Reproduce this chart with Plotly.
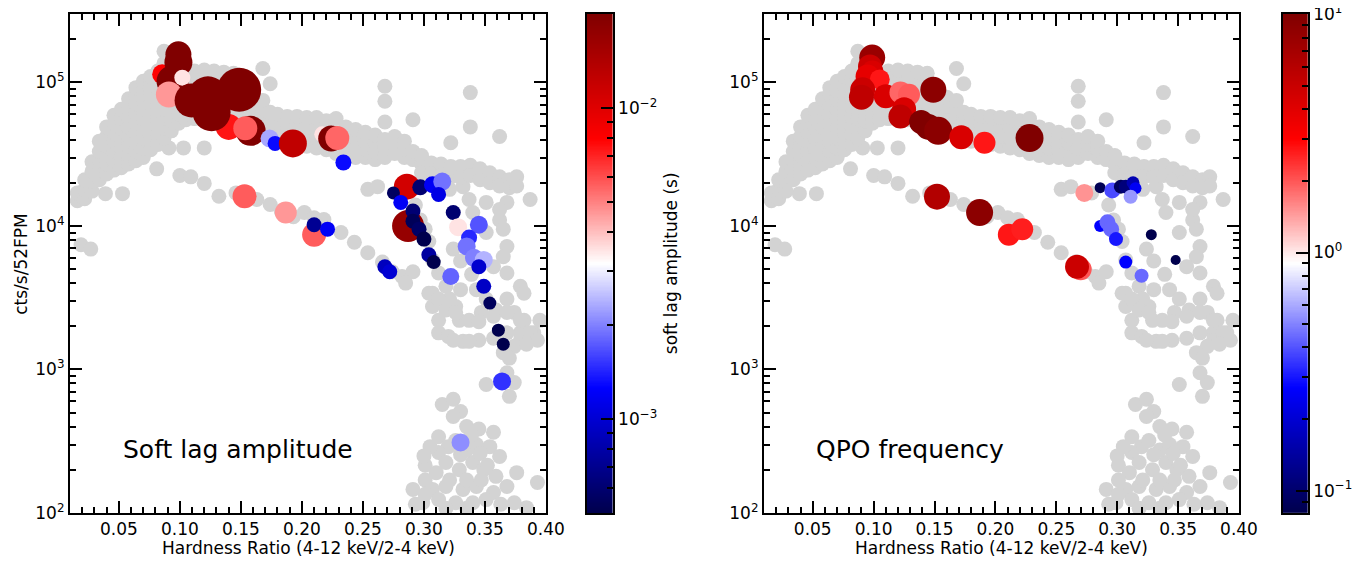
import numpy as np
import plotly.graph_objects as go

# ---------------- DATA ----------------
# Background (grey) hardness-intensity points, dense cloud stored column-wise
cloud_cols_hr = [0.016, 0.022, 0.028, 0.034, 0.040, 0.046, 0.052, 0.058, 0.064, 0.070,
                 0.076, 0.082, 0.087, 0.093, 0.099, 0.105, 0.112, 0.120, 0.128, 0.136,
                 0.144, 0.152, 0.160, 0.168, 0.174, 0.180, 0.188, 0.196, 0.204, 0.212,
                 0.220, 0.228, 0.236, 0.244, 0.252, 0.260, 0.268, 0.276, 0.284, 0.291,
                 0.298, 0.306, 0.314, 0.322, 0.330, 0.338, 0.346, 0.354, 0.362, 0.370,
                 0.376]
cloud_cols_rate = [
    [1.5e4, 1.7e4],
    [1.55e4, 1.8e4, 2.1e4],
    [1.75e4, 2.05e4, 2.4e4, 2.8e4],
    [2.1e4, 2.45e4, 2.85e4, 3.3e4, 3.9e4],
    [2.3e4, 2.7e4, 3.1e4, 3.6e4, 4.2e4, 4.9e4],
    [2.45e4, 2.85e4, 3.3e4, 3.9e4, 4.5e4, 5.2e4, 5.9e4],
    [2.55e4, 3.0e4, 3.5e4, 4.1e4, 4.8e4, 5.6e4, 6.5e4],
    [2.7e4, 3.1e4, 3.6e4, 4.2e4, 4.9e4, 5.7e4, 6.6e4, 7.7e4],
    [2.85e4, 3.3e4, 3.85e4, 4.5e4, 5.2e4, 6.1e4, 7.1e4, 8.2e4, 9.2e4],
    [3.0e4, 3.5e4, 4.1e4, 4.8e4, 5.6e4, 6.5e4, 7.6e4, 8.8e4, 1.02e5],
    [3.4e4, 3.9e4, 4.5e4, 5.2e4, 6.1e4, 7.1e4, 8.3e4, 9.6e4, 1.1e5],
    [3.7e4, 4.3e4, 5.0e4, 5.8e4, 6.8e4, 7.9e4, 9.2e4, 1.07e5, 1.2e5],
    [4.1e4, 4.8e4, 5.6e4, 6.5e4, 7.6e4, 8.8e4, 1.03e5, 1.36e5, 1.65e5],
    [4.6e4, 5.4e4, 6.3e4, 7.3e4, 8.5e4, 1.0e5],
    [5.2e4, 6.0e4, 7.0e4, 8.2e4, 9.5e4],
    [5.5e4, 6.4e4, 7.5e4, 8.8e4, 1.0e5, 1.15e5],
    [5.6e4, 6.5e4, 7.6e4, 8.9e4, 1.04e5, 1.2e5],
    [5.6e4, 6.5e4, 7.6e4, 8.9e4, 1.04e5, 1.22e5],
    [5.5e4, 6.4e4, 7.5e4, 8.8e4, 1.03e5, 1.2e5],
    [5.4e4, 6.3e4, 7.4e4, 8.7e4, 1.02e5, 1.18e5],
    [5.3e4, 6.2e4, 7.2e4, 8.5e4, 1.0e5, 1.16e5],
    [5.2e4, 6.0e4, 7.0e4, 8.2e4, 9.5e4],
    [5.1e4, 5.9e4, 6.8e4, 7.9e4],
    [5.0e4, 5.8e4, 6.6e4, 7.5e4, 1.25e5],
    [4.7e4, 5.4e4, 6.2e4, 9.8e4],
    [3.9e4, 4.5e4, 5.2e4, 6.0e4],
    [3.8e4, 4.4e4, 5.1e4, 5.8e4],
    [3.7e4, 4.3e4, 5.0e4, 5.8e4],
    [3.6e4, 4.2e4, 4.9e4, 5.7e4],
    [3.5e4, 4.1e4, 4.8e4, 5.7e4],
    [3.4e4, 3.9e4, 4.6e4, 5.4e4],
    [3.2e4, 3.7e4, 4.4e4, 5.6e4],
    [3.1e4, 3.6e4, 4.2e4, 4.9e4],
    [3.0e4, 3.5e4, 4.1e4, 4.7e4],
    [3.0e4, 3.4e4, 3.9e4, 4.5e4],
    [2.9e4, 3.3e4, 3.8e4, 4.3e4],
    [3.0e4, 3.5e4, 4.0e4, 5.3e4, 7.4e4, 9.4e4],
    [3.2e4, 3.7e4, 4.2e4],
    [3.0e4, 3.4e4, 3.9e4],
    [2.9e4, 3.3e4, 5.5e4],
    [2.7e4, 3.1e4, 2.35e4],
    [2.75e4, 2.3e4, 2.05e4],
    [2.7e4, 2.25e4, 2.0e4],
    [2.6e4, 2.2e4, 3.8e4],
    [2.6e4, 2.2e4],
    [2.65e4, 2.25e4, 4.9e4, 8.5e4],
    [2.5e4, 2.1e4],
    [2.35e4, 2.0e4],
    [2.2e4, 1.9e4, 4.2e4],
    [2.1e4, 1.85e4],
    [2.2e4, 1.9e4],
]

# Background (grey) scattered points
gray_hr = [
    0.019, 0.027, 0.039, 0.053, 0.021, 0.091, 0.103, 0.120,
    0.081, 0.100, 0.109, 0.120, 0.132, 0.146, 0.163, 0.174, 0.183, 0.193, 0.202,
    0.210, 0.218, 0.232, 0.243, 0.254, 0.266, 0.274, 0.282, 0.291, 0.285,
    0.254, 0.262, 0.279, 0.301, 0.314, 0.321,
    0.293, 0.297, 0.301, 0.304, 0.307, 0.312, 0.318, 0.307, 0.307, 0.312, 0.326, 0.329,
    0.332, 0.337, 0.340, 0.351, 0.362, 0.365, 0.368, 0.365, 0.357, 0.368, 0.379, 0.382,
    0.368, 0.374, 0.382, 0.379, 0.390, 0.395,
    0.351, 0.368, 0.387, 0.362,
    0.324, 0.330, 0.339, 0.343, 0.351, 0.359, 0.347, 0.330, 0.321, 0.304, 0.312, 0.318,
    0.326, 0.337, 0.345, 0.357, 0.368, 0.379,
    0.312, 0.320, 0.332, 0.345, 0.357, 0.368, 0.379, 0.387, 0.393, 0.374, 0.365, 0.370,
    0.324, 0.337, 0.384,
    0.351, 0.374, 0.370, 0.368,
    0.315, 0.324, 0.330, 0.324, 0.335, 0.345, 0.357, 0.312, 0.320, 0.312, 0.354, 0.362,
    0.301, 0.310, 0.318, 0.329, 0.340, 0.349, 0.359, 0.376, 0.368, 0.291, 0.307, 0.318,
    0.332, 0.343, 0.357, 0.312, 0.299, 0.326, 0.340, 0.351, 0.374, 0.393, 0.326, 0.335,
    0.343, 0.321, 0.335, 0.347, 0.301, 0.293, 0.318, 0.335, 0.363, 0.384, 0.330, 0.339,
    0.301, 0.305, 0.300, 0.346, 0.352,
]
gray_rate = [
    7.4e3, 6.9e3, 1.68e4, 1.68e4, 1.65e4, 3.5e4, 3.5e4, 3.5e4,
    2.5e4, 2.25e4, 2.2e4, 1.98e4, 1.61e4, 1.7e4, 1.53e4, 1.41e4, 1.27e4, 1.16e4, 1.24e4,
    1.14e4, 1.11e4, 9.0e3, 7.7e3, 6.5e3, 5.6e3, 4.8e3, 4.45e3, 4.8e3, 4.0e3,
    1.8e4, 1.88e4, 1.7e4, 2.3e4, 2.1e4, 1.8e4,
    1.4e4, 1.1e4, 9.5e3, 7.8e3, 5.8e3, 4.7e3, 3.8e3, 3.4e3, 2.75e3, 2.2e3, 2.75e3, 2.2e3,
    1.88e4, 1.53e4, 1.24e4, 9.0e3, 1.1e4, 9.5e3, 7.2e3, 6.1e3, 5.2e3, 4.7e3, 3.8e3, 3.4e3,
    3.1e3, 2.5e3, 2.2e3, 1.8e3, 1.8e3, 2.2e3,
    1.46e4, 1.46e4, 1.53e4, 1.3e4,
    6.9e3, 5.7e3, 4.6e3, 3.6e3, 3.1e3, 2.6e3, 2.5e3, 3.6e3, 3.1e3, 3.4e3, 3.1e3, 2.6e3,
    2.5e3, 2.2e3, 2.15e3, 2.35e3, 2.5e3, 2.2e3,
    1.8e3, 1.7e3, 1.57e3, 1.6e3, 1.65e3, 1.8e3, 1.6e3, 1.8e3, 1.6e3, 1.45e3, 1.31e3, 1.2e3,
    1.6e3, 1.57e3, 1.5e3,
    785, 810, 650, 950,
    570, 620, 510, 470, 400, 385, 365, 340, 290, 264, 290, 248,
    215, 191, 225, 200, 225, 200, 180, 191, 153, 146, 146, 153,
    146, 153, 139, 124, 118, 118, 118, 124, 118, 163, 320, 275,
    300, 170, 170, 170, 170, 115, 108, 108, 115, 109, 255, 350,
    135, 290, 250, 260, 215,
]

# Left panel: soft lag amplitude (s)
lag_hr = [0.0855, 0.0955, 0.0988, 0.0988, 0.094, 0.102, 0.091, 0.1096, 0.140, 0.123,
          0.126, 0.1486, 0.158, 0.1536, 0.1735, 0.178, 0.1926, 0.2167, 0.224, 0.229,
          0.234, 0.153, 0.1868, 0.210, 0.210, 0.221, 0.268, 0.272, 0.286, 0.275,
          0.281, 0.287, 0.297, 0.307, 0.315, 0.312, 0.291, 0.291, 0.296, 0.300,
          0.304, 0.308, 0.324, 0.328, 0.345, 0.337, 0.335, 0.341, 0.349, 0.345,
          0.322, 0.349, 0.354, 0.361, 0.365, 0.364, 0.330]
lag_rate = [1.14e5, 1.23e5, 1.57e5, 1.38e5, 1.02e5, 1.08e5, 8.25e4, 7.5e4, 4.9e4, 8.0e4,
            6.2e4, 8.9e4, 4.6e4, 4.8e4, 4.07e4, 3.76e4, 3.76e4, 4.35e4, 4.07e4, 4.1e4,
            2.77e4, 1.61e4, 1.24e4, 8.7e3, 1.02e4, 9.5e3, 5.2e3, 4.8e3, 1.88e4, 1.7e4,
            1.46e4, 1.0e4, 1.86e4, 1.94e4, 2.04e4, 1.66e4, 1.27e4, 1.08e4, 9.5e3, 8.1e3,
            6.3e3, 5.6e3, 1.24e4, 9.8e3, 1.02e4, 8.3e3, 7.2e3, 6.0e3, 5.8e3, 5.2e3,
            4.45e3, 3.8e3, 2.9e3, 1.88e3, 1.5e3, 825, 310]
lag_amp = [8.0e-3, 2.0e-3, 2.0e-2, 2.0e-2, 2.0e-2, 3.5e-3, 4.6e-3, 2.0e-2, 7.4e-3, 2.0e-2,
           2.0e-2, 2.0e-2, 2.0e-2, 5.7e-3, 2.3e-3, 1.3e-3, 1.26e-2, 3.5e-3, 2.0e-2, 5.5e-3,
           1.3e-3, 5.7e-3, 4.6e-3, 5.7e-3, 7.2e-4, 1.2e-3, 9.0e-4, 1.0e-3, 1.1e-2, 5.5e-4,
           1.2e-3, 1.7e-2, 6.0e-4, 1.2e-3, 1.9e-3, 1.1e-3, 6.1e-4, 5.3e-4, 5.7e-4, 5.0e-4,
           7.7e-4, 5.0e-4, 6.0e-4, 3.5e-3, 1.7e-3, 1.45e-3, 1.9e-3, 2.0e-3, 2.4e-3, 9.8e-4,
           1.8e-3, 9.3e-4, 5.4e-4, 5.0e-4, 5.0e-4, 1.5e-3, 2.1e-3]

# Right panel: QPO frequency (Hz)
qpo_hr = [0.0988, 0.097, 0.099, 0.095, 0.105, 0.091, 0.090, 0.110, 0.122, 0.129,
          0.125, 0.122, 0.149, 0.139, 0.145, 0.153, 0.172, 0.191, 0.228, 0.152,
          0.187, 0.211, 0.222, 0.270, 0.267, 0.273, 0.286, 0.296, 0.303, 0.307,
          0.313, 0.315, 0.311, 0.286, 0.286, 0.292, 0.295, 0.299, 0.307, 0.328,
          0.348, 0.320]
qpo_rate = [1.49e5, 1.29e5, 1.19e5, 1.1e5, 1.05e5, 8.9e4, 7.9e4, 8.0e4, 8.5e4, 8.2e4,
            6.5e4, 5.8e4, 8.9e4, 5.3e4, 4.9e4, 4.6e4, 4.15e4, 3.8e4, 4.1e4, 1.6e4,
            1.24e4, 8.7e3, 9.5e3, 5.0e3, 5.2e3, 1.7e4, 1.85e4, 1.77e4, 1.88e4, 1.88e4,
            2.0e4, 1.83e4, 1.6e4, 1.08e4, 1.0e4, 1.06e4, 9.5e3, 8.1e3, 5.6e3, 8.7e3,
            5.8e3, 4.5e3]
qpo_freq = [7.9, 4.9, 4.3, 3.8, 2.7, 4.9, 5.5, 4.3, 1.85, 1.95,
            4.3, 5.5, 8.9, 10.0, 10.0, 9.0, 4.3, 2.7, 10.0, 6.2,
            8.9, 2.7, 2.6, 2.0, 4.9, 1.5, 0.085, 0.38, 0.09, 0.11,
            0.16, 0.25, 0.55, 0.9, 0.27, 0.44, 0.44, 0.3, 0.27, 0.08,
            0.08, 0.44]

# ---------------- STYLE ----------------
lag_marker_px = [20, 18, 26, 28, 32, 16, 26, 34, 26, 40,
                 38, 44, 30, 24, 18, 15, 28, 16, 26, 24,
                 16, 24, 22, 24, 15, 15, 15, 15, 26, 13,
                 15, 32, 16, 17, 18, 15, 15, 15, 15, 15,
                 15, 14, 15, 18, 18, 16, 18, 18, 18, 15,
                 17, 15, 13, 13, 13, 18, 18]
qpo_marker_px = [26, 24, 22, 24, 20, 25, 25, 24, 22, 22,
                 24, 24, 26, 24, 26, 28, 24, 22, 28, 26,
                 27, 22, 22, 22, 24, 18, 11, 16, 14, 14,
                 13, 12, 14, 14, 12, 16, 16, 14, 13, 11,
                 10, 14]

# Page geometry: the body has an 8 px margin and the captured picture is
# horizontally ~0.987x the page, so target picture pixels are mapped back.
OFF = 8
SX = 0.987
W, H = 1364, 553
FONT = "DejaVu Sans"
seismic = [[0.0, "rgb(0,0,77)"], [0.25, "rgb(0,0,255)"], [0.5, "rgb(255,255,255)"],
           [0.75, "rgb(255,0,0)"], [1.0, "rgb(128,0,0)"]]
lag_lim = (np.log10(5.0e-4), np.log10(2.0e-2))
qpo_lim = (np.log10(0.0809), 1.0)
PLOT_TOP, PLOT_BOTTOM = 14, 513   # picture pixels


def px(xs):
    """picture pixel x -> paper fraction"""
    return (xs / SX - OFF) / W


def py(ys):
    """picture pixel y -> paper fraction (paper spans the plot area)"""
    return (PLOT_BOTTOM - ys) / (PLOT_BOTTOM - PLOT_TOP)


# build grey arrays
bg_hr = list(gray_hr)
bg_rate = list(gray_rate)
for hx, rates in zip(cloud_cols_hr, cloud_cols_rate):
    for r in rates:
        bg_hr.append(hx)
        bg_rate.append(r)

fig = go.Figure()

for xa, ya in (("x", "y"), ("x2", "y2")):
    fig.add_trace(go.Scatter(x=bg_hr, y=bg_rate, mode="markers", xaxis=xa, yaxis=ya,
                             marker=dict(size=15, color="#d3d3d3", line=dict(width=0)),
                             hoverinfo="skip"))

fig.add_trace(go.Scatter(x=lag_hr, y=lag_rate, mode="markers", xaxis="x", yaxis="y",
                         marker=dict(size=lag_marker_px, color=np.log10(lag_amp),
                                     colorscale=seismic, cmin=lag_lim[0], cmax=lag_lim[1],
                                     showscale=False, opacity=1, line=dict(width=0))))
fig.add_trace(go.Scatter(x=qpo_hr, y=qpo_rate, mode="markers", xaxis="x2", yaxis="y2",
                         marker=dict(size=qpo_marker_px, color=np.log10(qpo_freq),
                                     colorscale=seismic, cmin=qpo_lim[0], cmax=qpo_lim[1],
                                     showscale=False, opacity=1, line=dict(width=0))))

# colour bars drawn as heatmaps on their own axes
for xa, ya, lim in (("x3", "y3", lag_lim), ("x4", "y4", qpo_lim)):
    g = np.linspace(lim[0], lim[1], 400)
    fig.add_trace(go.Heatmap(x=[0.5], y=g, z=[[v] for v in g], xaxis=xa, yaxis=ya,
                             colorscale=seismic, zmin=lim[0], zmax=lim[1],
                             showscale=False, hoverinfo="skip"))

tickfont = dict(family=FONT, size=17, color="black")
xcommon = dict(range=[0.0099, 0.4001], tickmode="linear", tick0=0.05, dtick=0.05,
               tickformat=".2f", ticks="inside", ticklen=12, tickwidth=1.5,
               tickcolor="black", showline=True, linewidth=2, linecolor="black",
               mirror="allticks", showgrid=False, zeroline=False, tickfont=tickfont,
               automargin=False,
               minor=dict(tickmode="linear", tick0=0.0, dtick=0.01, ticks="inside",
                          ticklen=6, tickwidth=1.5, tickcolor="black", showgrid=False))
ymajor = [1e2, 1e3, 1e4, 1e5]
yminor = [m * d for d in (1e2, 1e3, 1e4, 1e5) for m in range(2, 10) if m * d < 3e5]
ycommon = dict(type="log", range=[2.0, 5.477], tickmode="array", tickvals=ymajor,
               ticktext=["10<sup>2</sup>", "10<sup>3</sup>", "10<sup>4</sup>", "10<sup>5</sup>"],
               ticks="inside", ticklen=12, tickwidth=1.5, tickcolor="black",
               showline=True, linewidth=2, linecolor="black", mirror="allticks",
               showgrid=False, zeroline=False, tickfont=tickfont, automargin=False,
               minor=dict(tickmode="array", tickvals=yminor, ticks="inside", ticklen=6,
                          tickwidth=1.5, tickcolor="black", showgrid=False))

cbx = dict(range=[0, 1], showticklabels=False, ticks="", showline=True, linewidth=1.5,
           linecolor="black", mirror=True, showgrid=False, zeroline=False, fixedrange=True,
           automargin=False)


def cb_axis(lim, majors, labels, minors):
    # tiny padding so the end ticks (e.g. 10^1) are kept
    return dict(range=[lim[0] - 0.002, lim[1] + 0.002], side="right", tickmode="array",
                tickvals=majors, ticktext=labels, ticks="inside", ticklen=12, tickwidth=1.5,
                tickcolor="black", showline=True, linewidth=1.5, linecolor="black",
                mirror=True, showgrid=False, zeroline=False, tickfont=tickfont,
                ticklabeloverflow="allow", automargin=False,
                minor=dict(tickmode="array", tickvals=minors, ticks="inside", ticklen=6,
                           tickwidth=1.5, tickcolor="black", showgrid=False))


lag_minor = [np.log10(v) for v in [6e-4, 7e-4, 8e-4, 9e-4, 2e-3, 3e-3, 4e-3, 5e-3,
                                   6e-3, 7e-3, 8e-3, 9e-3]]
qpo_minor = [np.log10(v) for v in [0.09, 0.2, 0.3, 0.4, 0.5, 0.6, 0.7, 0.8, 0.9,
                                   2, 3, 4, 5, 6, 7, 8, 9]]

fig.update_layout(
    width=W, height=H, autosize=False,
    margin=dict(l=0, r=0, t=PLOT_TOP - OFF, b=H - (PLOT_BOTTOM - OFF), autoexpand=False),
    paper_bgcolor="white", plot_bgcolor="white", showlegend=False,
    font=dict(family=FONT, color="black"),
    xaxis=dict(domain=[px(69), px(539)], anchor="y", **xcommon),
    yaxis=dict(domain=[0, 1], anchor="x", **ycommon),
    xaxis2=dict(domain=[px(754), px(1223)], anchor="y2", **xcommon),
    yaxis2=dict(domain=[0, 1], anchor="x2", **ycommon),
    xaxis3=dict(domain=[px(579), px(605)], anchor="y3", **cbx),
    yaxis3=dict(domain=[0, 1], anchor="x3",
                **cb_axis(lag_lim, [-3, -2], ["10<sup>−3</sup>", "10<sup>−2</sup>"], lag_minor)),
    xaxis4=dict(domain=[px(1266), px(1291)], anchor="y4", **cbx),
    yaxis4=dict(domain=[0, 1], anchor="x4",
                **cb_axis(qpo_lim, [-1, 0, 1],
                          ["10<sup>−1</sup>", "10<sup>0</sup>", "10<sup>1</sup>"], qpo_minor)),
)

ann_font = dict(family=FONT, size=17, color="black")


def add_text(xs, ys, text, font, angle=0):
    fig.add_annotation(x=px(xs), y=py(ys), xref="paper", yref="paper", showarrow=False,
                       xanchor="center", yanchor="middle", text=text, font=font,
                       textangle=angle)


add_text(304, 548, "Hardness Ratio (4-12 keV/2-4 keV)", ann_font)
add_text(988.5, 548, "Hardness Ratio (4-12 keV/2-4 keV)", ann_font)
add_text(20, 263.5, "cts/s/52FPM", ann_font, -90)
add_text(662, 263.5, "soft lag amplitude (s)", ann_font, -90)
add_text(1345, 263.5, "QPO frequency (Hz)", ann_font, -90)
big = dict(family=FONT, size=25, color="black")
add_text(234.5, 449, "Soft lag amplitude", big)
add_text(898.5, 449, "QPO frequency", big)

fig.write_html("out.html")
